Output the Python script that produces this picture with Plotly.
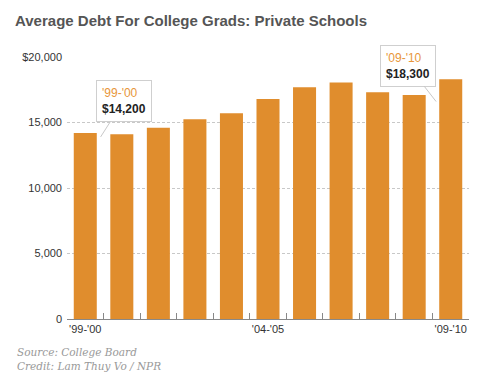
import plotly.graph_objects as go

categories = ["'99-'00", "'00-'01", "'01-'02", "'02-'03", "'03-'04", "'04-'05",
              "'05-'06", "'06-'07", "'07-'08", "'08-'09", "'09-'10"]
debt = [14200, 14100, 14600, 15250, 15700, 16800, 17700, 18050, 17300, 17100, 18300]
shown_labels = ["'99-'00", "'04-'05", "'09-'10"]
y_ticks = [0, 5000, 10000, 15000, 20000]
y_tick_text = ["0", "5,000", "10,000", "15,000", "$20,000"]

ORANGE = "#E08D2D"

fig = go.Figure(go.Bar(
    x=categories, y=debt, marker=dict(color=ORANGE, line=dict(width=0)),
    hoverinfo="skip",
))

fig.update_layout(
    width=480, height=380,
    margin=dict(l=67, r=11, t=57, b=61, autoexpand=False),
    paper_bgcolor="white", plot_bgcolor="white",
    bargap=0.37,
    showlegend=False,
    font=dict(family="Liberation Sans, Arial, sans-serif", size=11, color="#333"),
    title=dict(
        text="<b>Average Debt For College Grads: Private Schools</b>",
        x=15 / 480, xanchor="left", xref="container",
        y=1 - 21 / 380, yanchor="middle", yref="container",
        font=dict(family="Liberation Sans, Arial, sans-serif", size=15, color="#555"),
    ),
)

fig.update_xaxes(
    type="category",
    tickmode="array", tickvals=categories,
    ticktext=[c if c in shown_labels else "" for c in categories],
    tickangle=0, automargin=False,
    tickson="boundaries", ticks="inside", ticklen=6, tickcolor="#888", tickwidth=1,
    showline=True, linecolor="#888", linewidth=1,
    showgrid=False, zeroline=False,
    tickfont=dict(size=11, color="#333"),
    range=[-0.5, len(categories) - 0.5],
)
fig.update_yaxes(
    range=[0, 20000], automargin=False,
    tickmode="array", tickvals=y_ticks, ticktext=y_tick_text,
    showgrid=True, gridcolor="#c8c8c8", griddash="3px,2px", gridwidth=1,
    zeroline=False, showline=False, ticks="",
    ticklabelstandoff=4,
    tickfont=dict(size=11, color="#333"),
)

callouts = [
    (0, debt[0], 0.42, 13900, 23, -36),
    (10, debt[10], 9.6, 16600, -28, -36),
]
for idx, val, xpos, ypos, ax, ay in callouts:
    fig.add_annotation(
        x=xpos, y=ypos, xref="x", yref="y",
        text=f"<span style='color:#E8963A'>{categories[idx]}</span><br><b>${val:,}</b>",
        showarrow=True, arrowhead=0, arrowwidth=1, arrowcolor="#c8c8c8",
        ax=ax, ay=ay, standoff=0,
        bgcolor="white", bordercolor="#cfcfcf", borderwidth=1, borderpad=5,
        align="left",
        font=dict(family="Liberation Sans, Arial, sans-serif", size=12, color="#222"),
    )

fig.add_annotation(
    text="Source: College Board<br>Credit: Lam Thuy Vo / NPR",
    xref="paper", yref="paper", x=-52 / 402, y=-(344 - 319) / 262,
    xanchor="left", yanchor="top", showarrow=False, align="left",
    font=dict(family="DejaVu Serif, serif", size=10.5, color="#999", style="italic"),
)

fig.write_html("out.html", config={"displayModeBar": False},
               post_script="document.body.style.margin='0';")
